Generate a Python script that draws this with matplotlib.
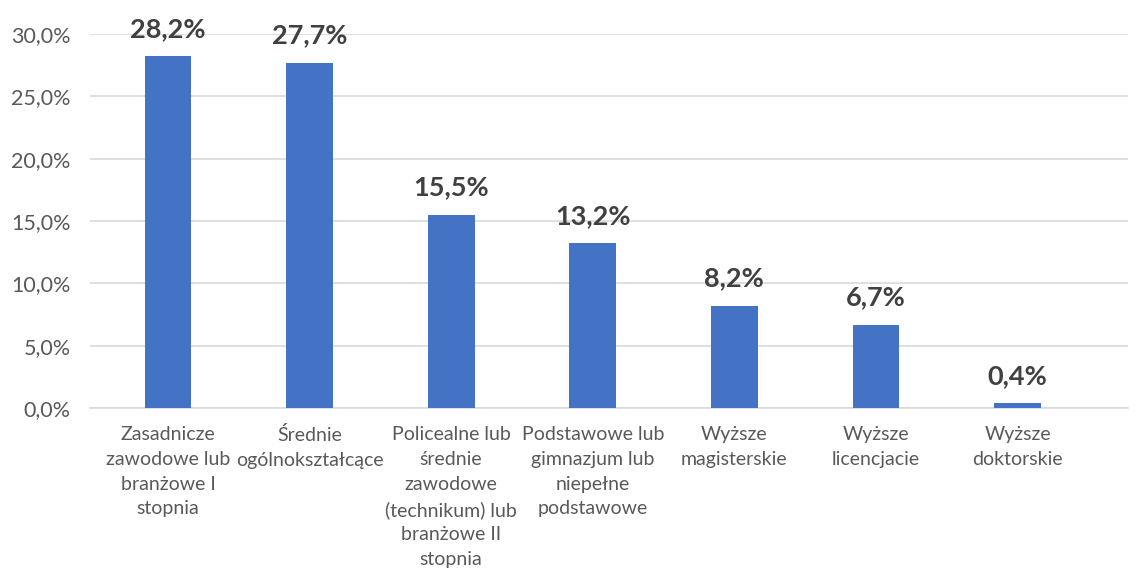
import matplotlib.pyplot as plt
import numpy as np

plt.rcParams['font.family'] = ['Lato', 'DejaVu Sans']

# dane
kategorie = [
    'Zasadnicze\nzawodowe lub\nbranżowe I\nstopnia',
    'Średnie\nogólnokształcące',
    'Policealne lub\nśrednie\nzawodowe\n(technikum) lub\nbranżowe II\nstopnia',
    'Podstawowe lub\ngimnazjum lub\nniepełne\npodstawowe',
    'Wyższe\nmagisterskie',
    'Wyższe\nlicencjacie',
    'Wyższe\ndoktorskie',
]
udzial = [28.2, 27.7, 15.5, 13.2, 8.2, 6.7, 0.4]
yticks = [0, 5, 10, 15, 20, 25, 30]

fig = plt.figure(figsize=(11.41, 5.74), dpi=100)
ax = fig.add_axes([0.079, 0.289, 0.9096, 0.6518])

x = np.arange(len(kategorie))
bars = ax.bar(x, udzial, width=0.33, color='#4472C4', zorder=3)

# etykiety nad słupkami
for xi, v in zip(x, udzial):
    ax.annotate(f'{v:.1f}%'.replace('.', ','), (xi, v), xytext=(0, 14),
                textcoords='offset points', ha='center', va='baseline',
                fontsize=19.5, fontweight='bold', color='#404040')

ax.set_ylim(0, 30)
ax.set_xlim(-0.55, 6.78)
ax.set_yticks(yticks)
ax.set_yticklabels([f'{t:.1f}%'.replace('.', ',') for t in yticks])
ax.set_xticks(x)
ax.set_xticklabels(kategorie, linespacing=1.55)

ax.grid(axis='y', color='#D9D9D9', linewidth=1.2, zorder=0)
for s in ['top', 'right', 'left']:
    ax.spines[s].set_visible(False)
ax.spines['bottom'].set_color('#D9D9D9')
ax.spines['bottom'].set_linewidth(1.2)
ax.tick_params(axis='both', length=0, colors='#595959')
ax.tick_params(axis='y', pad=14, labelsize=15.5)
ax.tick_params(axis='x', pad=13, labelsize=14)

plt.savefig('out.png', dpi=100)
